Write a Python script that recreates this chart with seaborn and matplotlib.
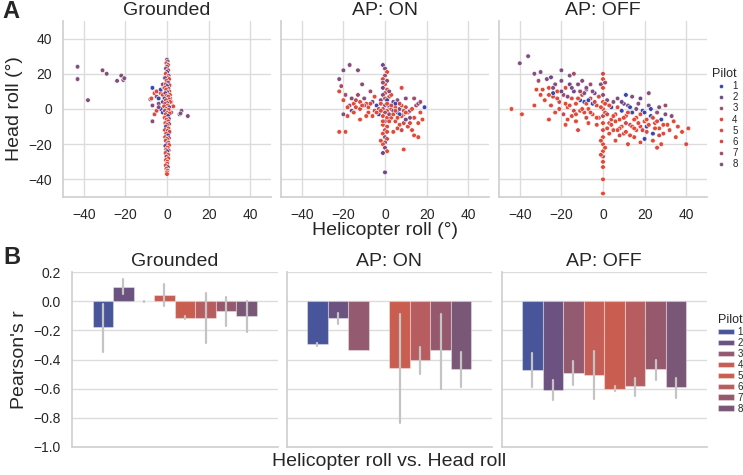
import colorsys
import numpy as np
import pandas as pd
import matplotlib
matplotlib.use("Agg")
import matplotlib.pyplot as plt
import matplotlib.colors as mcolors
import seaborn as sns

# ---------------- data ----------------
conditions = ["Grounded", "AP: ON", "AP: OFF"]
pilots = ["1", "2", "3", "4", "5", "6", "7", "8"]
comparison = "Helicopter roll vs. Head roll"

# scatter points (helicopter roll, head roll, pilot)
grounded_pts = [
    (-43, 24, 8), (-43, 17, 8), (-38, 5, 8), (-31, 22, 8), (-29, 20, 8), (-24, 16, 8),
    (-22, 19, 8), (-21, 16.5, 8), (-20.5, 17.5, 8),
    (-7, 12, 1), (-7, 2, 8), (-8, 5.5, 8), (-7.5, 6, 4), (-6, 9, 4), (-5, 7, 8), (-5, 10, 4),
    (-4, 6, 1), (-4, 3, 8), (-3, 9, 4), (-3, 11, 1), (-2, 8, 4), (-2, 4, 2), (-3, 0, 1),
    (-2, -2, 1), (-6, -3, 4), (-7, -7, 8), (-5, -1, 4), (-4, 1, 8), (-1.5, 12, 4), (-2, 14, 8),
    (-1, 18, 8), (2, 4, 4), (3, 1.5, 4), (2, -2, 8), (6, -3, 8), (7, -1, 8), (6.5, -2.5, 8),
    (10, -4, 8), (1.5, 6, 4),
    (0, 28, 8), (0.3, 27, 2), (-0.3, 26, 4), (0.5, 25, 5), (0, 24, 8), (-0.5, 23, 3),
    (0.6, 22, 6), (0, 21, 1), (-0.6, 20, 4), (0.8, 19, 7), (0.2, 18, 5), (-0.9, 17.5, 2),
    (1.0, 17, 6), (-0.2, 16, 4), (0.5, 15, 8), (-0.7, 14, 5), (1.2, 13.5, 4), (0, 13, 1),
    (-1.0, 12, 6), (0.7, 11.5, 3), (-0.4, 11, 5), (1.1, 10, 4), (0.2, 9.5, 8), (-0.8, 9, 2),
    (1.4, 8, 5), (-0.1, 7.5, 4), (0.6, 7, 6), (-1.2, 6, 1), (0.9, 5.5, 7), (-0.5, 5, 4),
    (1.5, 4, 5), (0, 3.5, 8), (-0.9, 3, 6), (0.4, 2, 5), (-1.4, 1.5, 4), (1.1, 1, 2),
    (-0.3, 0, 5), (0.8, -0.5, 4), (-1.0, -1, 7), (0.2, -2, 6), (1.3, -2.5, 5), (-0.6, -3, 4),
    (0.5, -4, 1), (-1.1, -5, 5), (0.9, -5.5, 8), (-0.2, -6, 4), (0.6, -7, 6), (-0.8, -8, 5),
    (1.0, -8.5, 3), (0, -9, 4), (-0.5, -10, 2), (0.7, -11, 5), (-1.0, -12, 4), (0.3, -12.5, 8),
    (1.2, -13, 6), (-0.4, -14, 5), (0.5, -15, 1), (-0.9, -16, 4), (0.9, -16.5, 7), (0, -17, 5),
    (-0.6, -18, 6), (0.6, -19, 4), (-0.2, -20, 8), (1.0, -20.5, 5), (-0.8, -21, 2),
    (0.3, -22, 4), (-0.4, -23, 5), (0.8, -23.5, 6), (0, -24, 1), (-0.7, -25, 4), (0.5, -26, 5),
    (-0.3, -27, 8), (0.6, -28, 4), (-0.5, -29, 5), (0.2, -30, 6), (0, -31, 4), (-0.6, -32, 5),
    (0.4, -33, 2), (-0.3, -34, 4), (0.2, -35, 5), (0, -36, 4), (0, -37, 5),
]

ap_on_pts = [
    (-20, 22, 8), (-17, 25, 8), (-13, 22, 8), (-22, 17, 8), (-21, 13, 7), (-19, 8, 3),
    (-22, 10, 4), (-20, -3, 8), (-22, -13, 5), (-19, -13, 4), (-17, 2, 3), (-16, 6, 8),
    (-15, 3, 5), (-14, 1, 4), (-13, 8, 7), (-12, 4, 5), (-11, 14, 8), (-10, 6, 8), (-9, 3, 4),
    (-8, 1, 5), (-7, 10, 3), (-6, 4, 2), (-5, 7, 5), (-4, 2, 1), (-3, 0, 4), (-2, 5, 8),
    (-18, 1, 5), (-20, 5, 5), (-16, -1, 2), (-14, 5, 6), (-12, 0, 4), (-10, 2, 7), (-8, -2, 5),
    (-6, -4, 4), (-5, -1, 6), (-3, -3, 1), (-18, -4, 4), (-12, -6, 5),
    (-1, 25, 2), (0, 23, 8), (1, 21, 5), (0, 19, 3), (-1, 17, 4), (1, 16, 8), (0, 14, 5),
    (-1, 12, 2), (1, 11, 4), (0, 9, 6), (-1, 8, 8), (2, 7, 4), (0, 6, 5), (1, 5, 1), (-2, 3, 4),
    (0, 2, 8), (2, 1, 5), (-1, 0, 6), (1, -1, 4), (0, -2, 3), (-1, -4, 5), (1, -5, 4), (0, -7, 8),
    (-1, -9, 5), (1, -10, 4), (0, -12, 6), (-1, -14, 5), (0, -16, 8), (1, -17, 4), (0, -19, 3),
    (-1, -20, 5), (0, -22, 8), (1, -24, 4), (-1, -25, 2), (0, -36, 2),
    (2, 2, 1), (3, 0, 4), (4, -1, 1), (5, 1, 5), (6, -2, 1), (7, 0, 8), (8, 2, 4), (9, -3, 5),
    (10, 1, 6), (11, -2, 4), (12, -1, 8), (13, 0, 5), (14, -5, 4), (15, 2, 7), (16, 3, 8),
    (17, -2, 5), (19, 1, 1), (17, 4, 3), (3, -5, 5), (5, -7, 4), (7, -9, 5), (9, -8, 6),
    (11, -10, 4), (13, -12, 5), (14, -15, 4), (16, -16, 4), (9, -23, 5), (8, -12, 6), (6, -11, 4),
    (4, -13, 5), (12, -5, 8), (10, -6, 2), (8, -4, 4), (6, 5, 8), (4, 4, 2), (3, 8, 5), (8, 12, 4),
    (10, 6, 8), (14, 6, 7), (16, -8, 5), (18, -6, 4), (2, -3, 7), (5, 3, 1), (7, -3, 1),
    (-15, -2, 5), (-11, 2, 4), (-9, -4, 5), (-7, 3, 6), (-4, -2, 5), (-2, -1, 4), (1, 3, 5),
    (2, -7, 4), (3, 2, 6), (4, -3, 5), (5, -1, 4), (6, -5, 5), (7, 3, 6), (9, -1, 4), (10, -2, 5),
    (12, -8, 4), (-1, -7, 5), (1, -13, 4), (-2, -18, 5), (2, 10, 8), (-1, 15, 3),
]

ap_off_pts = [
    (-40, 26, 8), (-36, 30, 8), (-33, 20, 8), (-31, 16, 3), (-30, 21, 8), (-29, 11, 4),
    (-27, 17, 8), (-26, 12, 5), (-25, 18, 2), (-24, 7, 4), (-23, 14, 8), (-22, 10, 5),
    (-21, 4, 6), (-20, 16, 8), (-19, 8, 3), (-18, 12, 4), (-17, 1, 5), (-16, 19, 8), (-15, 6, 4),
    (-14, 10, 2), (-13, 3, 5), (-12, 14, 8), (-11, -1, 4), (-10, 8, 6), (-9, 4, 1), (-8, 11, 8),
    (-7, 0, 5), (-6, 6, 4), (-5, -3, 5), (-4, 9, 2), (-3, 2, 4), (-2, -5, 6), (-1, 14, 8),
    (-28, 5, 5), (-25, 2, 4), (-23, -2, 5), (-21, 0, 4), (-19, -3, 6), (-17, 7, 8), (-15, -4, 4),
    (-13, -7, 5), (-11, 5, 1), (-9, -2, 4), (-7, -8, 5), (-5, 3, 1), (-3, -9, 4), (-20, 22, 8),
    (-14, 20, 7), (-10, 16, 8), (-6, 14, 3), (-30, 8, 4), (-32, 11, 5), (-33, 2, 4), (-44, 0, 5),
    (-39, -3, 5), (-26, -6, 4), (-18, -9, 5), (-12, -12, 4), (-8, 12, 8), (-16, 14, 2), (-24, 9, 1),
    (0, 20, 6), (0, 17, 5), (0, 12, 4), (0, 8, 8), (0, 4, 5), (0, 0, 4), (0, -4, 6), (0, -8, 5),
    (0, -12, 4), (0, -16, 5), (0, -20, 4), (0, -24, 5), (0, -27, 6), (0, -30, 4), (0, -33, 5),
    (0, -40, 4), (0, -48, 5), (1, 15, 3), (-1, -18, 4), (1, -22, 5), (-1, -26, 4),
    (1, -2, 5), (2, 5, 8), (3, -8, 4), (4, 1, 1), (5, -12, 5), (6, -3, 4), (7, 6, 8), (8, -6, 5),
    (9, -1, 1), (10, -14, 4), (11, -4, 5), (12, 2, 8), (13, -9, 6), (14, -2, 1), (15, -16, 4),
    (16, -5, 5), (17, 3, 8), (18, -10, 4), (19, -1, 1), (20, -7, 5), (21, -13, 4), (22, 2, 8),
    (23, -4, 1), (24, -18, 5), (25, -8, 4), (26, -2, 3), (27, -11, 5), (28, -6, 1), (29, -14, 4),
    (30, -3, 8), (31, -9, 5), (32, -12, 4), (34, -7, 5), (36, -10, 4), (38, -13, 5), (40, -20, 4),
    (41, -11, 5), (22, 9, 8), (18, 6, 2), (14, 7, 8), (10, 3, 2), (6, -18, 5), (12, -20, 4),
    (18, -19, 5), (26, -22, 4), (28, -20, 4), (24, -14, 1), (20, -17, 1), (16, -12, 5), (8, -15, 6),
    (4, -6, 4), (2, -11, 5), (30, 2, 7), (33, -4, 8), (13, -15, 4), (9, -10, 5), (11, 8, 1),
    (21, -10, 1), (27, 1, 8), (35, -16, 5),
    (-18, 3, 5), (-16, 2, 4), (-14, -1, 6), (-12, 6, 5), (-10, 0, 4), (-9, 9, 8), (-8, 3, 5),
    (-6, -2, 4), (-4, 4, 6), (-3, -5, 5), (-2, 7, 4), (-1, 1, 5), (1, 3, 4), (2, -3, 6), (3, 2, 5),
    (4, -9, 4), (5, 4, 8), (6, -7, 5), (7, 1, 4), (8, -11, 5), (9, 4, 2), (10, -5, 4), (11, -8, 6),
    (12, -2, 5), (13, 1, 1), (14, -10, 4), (15, -6, 5), (16, 0, 8), (17, -8, 4), (18, -3, 5),
    (19, -12, 6), (20, -2, 1), (21, -6, 4), (22, -9, 5), (23, 0, 1), (24, -5, 4), (25, -11, 5),
    (26, -7, 4), (27, -15, 6), (29, -9, 5), (-22, 6, 4), (-24, 12, 8), (-26, 8, 5), (-20, 10, 2),
    (-15, 12, 8), (-11, 10, 3), (-7, 5, 1), (-5, 10, 8), (3, -14, 5), (7, -12, 4), (-13, -3, 5),
    (-17, -6, 4), (-8, -5, 6), (5, -4, 5), (11, -13, 4), (15, -11, 5),
]

# Pearson's r per pilot (None = missing) with error-bar low / high
r_grounded = [-0.18, 0.095, 0.0, 0.04, -0.114, -0.114, -0.068, -0.10]
lo_grounded = [-0.347, 0.046, -0.004, -0.03, -0.125, -0.285, -0.17, -0.21]
hi_grounded = [-0.02, 0.155, 0.004, 0.115, -0.10, 0.057, 0.03, 0.0]

r_ap_on = [-0.297, -0.114, -0.338, None, -0.455, -0.40, -0.338, -0.467]
lo_ap_on = [-0.31, -0.155, -0.338, None, -0.835, -0.497, -0.60, -0.587]
hi_ap_on = [-0.29, -0.08, -0.338, None, -0.086, -0.314, -0.086, -0.352]

r_ap_off = [-0.47, -0.607, -0.49, -0.505, -0.60, -0.584, -0.468, -0.589]
lo_ap_off = [-0.589, -0.676, -0.573, -0.669, -0.616, -0.651, -0.539, -0.662]
hi_ap_off = [-0.356, -0.543, -0.413, -0.342, -0.584, -0.527, -0.40, -0.525]

# ---------------- style ----------------
bar_colors = ["#48559a", "#6b5280", "#935a70", "#c45e56",
              "#c95e50", "#b75d60", "#95586c", "#7a5677"]


def saturate(c, f):
    r, g, b = mcolors.to_rgb(c)
    h, l, s = colorsys.rgb_to_hls(r, g, b)
    return colorsys.hls_to_rgb(h, l, min(1.0, s * f))


point_colors = [saturate(c, 1.45) for c in bar_colors]

sns.set_theme(style="whitegrid")
plt.rcParams["font.family"] = ["Liberation Sans", "DejaVu Sans"]
plt.rcParams["axes.edgecolor"] = "#d0d0d0"
plt.rcParams["grid.color"] = "#dcdcdc"

W, H = 743, 475
fig = plt.figure(figsize=(W / 100, H / 100), dpi=100)


def rect(l, t, w, h):
    return [l / W, 1 - (t + h) / H, w / W, h / H]


TICK = 10
LAB = 14

# ---------------- top row: scatter ----------------
pts = {"Grounded": grounded_pts, "AP: ON": ap_on_pts, "AP: OFF": ap_off_pts}
top_lefts = [63, 281, 499]
top_axes = []
for i, cond in enumerate(conditions):
    ax = fig.add_axes(rect(top_lefts[i], 21, 208, 176))
    d = pd.DataFrame(pts[cond], columns=["heli", "head", "Pilot"])
    d["Pilot"] = d["Pilot"].astype(str)
    sns.scatterplot(data=d, x="heli", y="head", hue="Pilot", hue_order=pilots,
                    palette=point_colors, s=11, linewidth=0.4, edgecolor="white",
                    ax=ax, legend=(i == 2))
    ax.set_xlim(-50, 50)
    ax.set_ylim(-50, 50)
    ax.set_xticks([-40, -20, 0, 20, 40])
    ax.set_yticks([-40, -20, 0, 20, 40])
    ax.tick_params(labelsize=TICK, pad=2)
    ax.set_title(cond, fontsize=LAB, pad=4)
    ax.set_xlabel("Helicopter roll (°)" if i == 1 else "", fontsize=LAB, labelpad=0)
    if i == 0:
        ax.set_ylabel("Head roll (°)", fontsize=LAB)
    else:
        ax.set_ylabel("")
        ax.set_yticklabels([])
    sns.despine(ax=ax)
    top_axes.append(ax)

h, l = top_axes[2].get_legend_handles_labels()
top_axes[2].get_legend().remove()
fig.legend(h, l, title="Pilot", loc="upper left", bbox_to_anchor=(707 / W, 1 - 64 / H),
           frameon=False, fontsize=7, title_fontsize=9, labelspacing=0.12,
           handletextpad=0.2, markerscale=0.9, borderaxespad=0)

# ---------------- bottom row: bars ----------------
rs = {"Grounded": (r_grounded, lo_grounded, hi_grounded),
      "AP: ON": (r_ap_on, lo_ap_on, hi_ap_on),
      "AP: OFF": (r_ap_off, lo_ap_off, hi_ap_off)}
bot_lefts = [72, 286.5, 501.5]
bot_axes = []
for i, cond in enumerate(conditions):
    ax = fig.add_axes(rect(bot_lefts[i], 272, 205.5, 175))
    vals, los, his = rs[cond]
    rows = []
    for p, v, lo, hi in zip(pilots, vals, los, his):
        if v is None:
            continue
        for x in (lo, v, hi):
            rows.append({"comp": comparison, "r": x, "Pilot": p})
    d = pd.DataFrame(rows)
    sns.barplot(data=d, x="comp", y="r", hue="Pilot", hue_order=pilots,
                palette=bar_colors, saturation=1, estimator="median",
                errorbar=lambda v: (v.min(), v.max()),
                err_kws={"color": "#c4c4c4", "linewidth": 1.6},
                edgecolor=(1, 1, 1, 0.35), linewidth=0.8,
                ax=ax, legend=(i == 2))
    ax.set_ylim(-1.0, 0.2)
    ax.set_yticks([-1.0, -0.8, -0.6, -0.4, -0.2, 0.0, 0.2])
    ax.set_xticks([])
    ax.tick_params(labelsize=TICK, pad=2)
    ax.set_title(cond, fontsize=LAB, pad=4)
    ax.set_xlabel(comparison if i == 1 else "", fontsize=LAB, labelpad=4)
    if i == 0:
        ax.set_ylabel("Pearson's r", fontsize=LAB)
    else:
        ax.set_ylabel("")
        ax.set_yticklabels([])
    ax.grid(axis="x", visible=False)
    sns.despine(ax=ax)
    bot_axes.append(ax)

h, l = bot_axes[2].get_legend_handles_labels()
bot_axes[2].get_legend().remove()
fig.legend(h, l, title="Pilot", loc="upper left", bbox_to_anchor=(714 / W, 1 - 310 / H),
           frameon=False, fontsize=7, title_fontsize=9, labelspacing=0.1,
           handlelength=1.7, handleheight=0.5, handletextpad=0.3, borderaxespad=0)

# panel letters
fig.text(2 / W, 1 - 12 / H, "A", fontsize=17, fontweight="bold", va="center", ha="left")
fig.text(3 / W, 1 - 257 / H, "B", fontsize=17, fontweight="bold", va="center", ha="left")

fig.savefig("out.png", dpi=100)
